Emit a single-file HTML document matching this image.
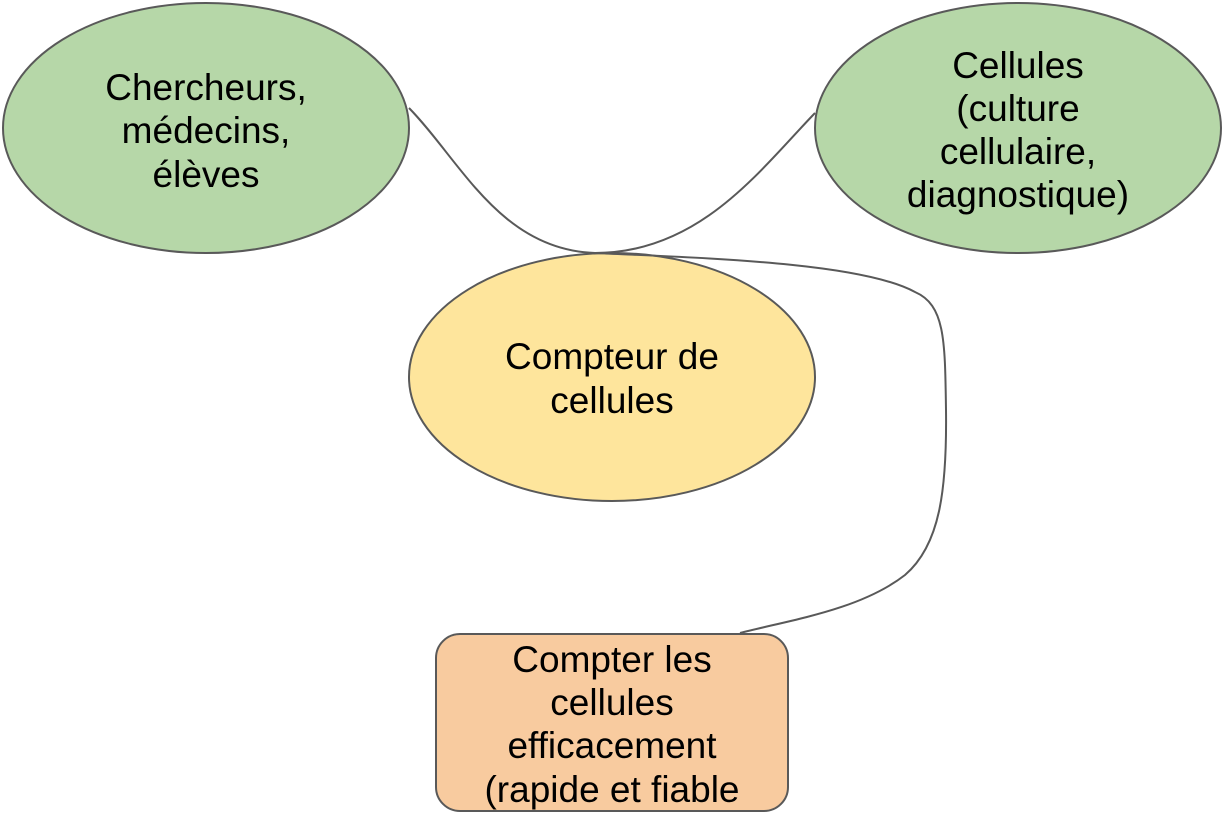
<!DOCTYPE html>
<html><head><meta charset="utf-8"><style>
html,body{margin:0;padding:0;background:#fff;width:1228px;height:822px;overflow:hidden}
text{font-family:"Liberation Sans",Arial,sans-serif;font-size:37px;fill:#000;text-anchor:middle}
</style></head><body>
<svg width="1228" height="822" viewBox="0 0 1228 822" xmlns="http://www.w3.org/2000/svg">
<ellipse cx="206" cy="128" rx="203" ry="125" fill="#b6d7a8" stroke="#595959" stroke-width="2"/>
<ellipse cx="1018" cy="128" rx="203" ry="125" fill="#b6d7a8" stroke="#595959" stroke-width="2"/>
<ellipse cx="612" cy="377" rx="203" ry="124" fill="#fee59c" stroke="#595959" stroke-width="2"/>
<rect x="436" y="634" width="352" height="177" rx="24" fill="#f8cb9f" stroke="#595959" stroke-width="2"/>
<g fill="none" stroke="#595959" stroke-width="2">
<path d="M409,108 C460,160 500,250 595,253 C700,253 760,170 815,113"/>
<path d="M595,253 C700,258 860,262 915,292 C945,305 945,340 946,410 C947,490 940,545 905,575 C860,610 790,620 740,633"/>
</g>
<text x="206" y="100">Chercheurs,</text>
<text x="206" y="143">médecins,</text>
<text x="206" y="187">élèves</text>
<text x="1018" y="78">Cellules</text>
<text x="1018" y="121">(culture</text>
<text x="1018" y="164">cellulaire,</text>
<text x="1018" y="207">diagnostique)</text>
<text x="612" y="369">Compteur de</text>
<text x="612" y="413">cellules</text>
<text x="612" y="672">Compter les</text>
<text x="612" y="715">cellules</text>
<text x="612" y="758">efficacement</text>
<text x="612" y="802">(rapide et fiable</text>
</svg>
</body></html>
